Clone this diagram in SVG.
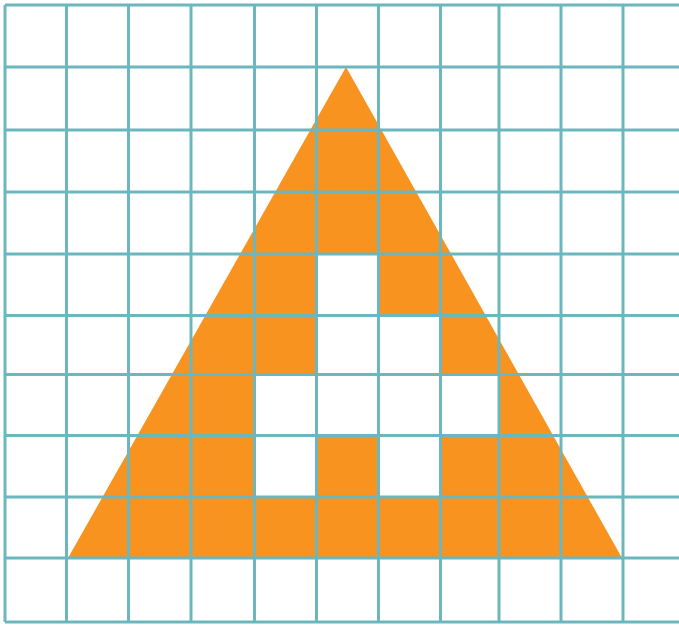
<svg xmlns="http://www.w3.org/2000/svg" width="679" height="626" viewBox="0 0 679 626">
<style>
.grid line{stroke:#6cb7bf;stroke-width:3}
.hole{fill:#ffffff}
</style>
<rect width="679" height="626" fill="#ffffff"/>
<g id="triangle">
<polygon points="346,67 68,558 622,558" fill="#f7931e"/>
</g>
<g id="holes" class="hole">
<rect x="316" y="254" width="62" height="62"/>
<rect x="316" y="315" width="124" height="60"/>
<rect x="254" y="374" width="245" height="62"/>
<rect x="254" y="435" width="62" height="62"/>
<rect x="378" y="435" width="62" height="62"/>
</g>
<g id="grid" class="grid">
<line x1="5" y1="5" x2="5" y2="622"/>
<line x1="66.5" y1="5" x2="66.5" y2="622"/>
<line x1="128.5" y1="5" x2="128.5" y2="622"/>
<line x1="191" y1="5" x2="191" y2="622"/>
<line x1="254.5" y1="5" x2="254.5" y2="622"/>
<line x1="316.5" y1="5" x2="316.5" y2="622"/>
<line x1="378.5" y1="5" x2="378.5" y2="622"/>
<line x1="440.5" y1="5" x2="440.5" y2="622"/>
<line x1="499" y1="5" x2="499" y2="622"/>
<line x1="561" y1="5" x2="561" y2="622"/>
<line x1="623" y1="5" x2="623" y2="622"/>
<line x1="5" y1="5" x2="679" y2="5"/>
<line x1="5" y1="67" x2="679" y2="67"/>
<line x1="5" y1="130" x2="679" y2="130"/>
<line x1="5" y1="192" x2="679" y2="192"/>
<line x1="5" y1="254" x2="679" y2="254"/>
<line x1="5" y1="315.5" x2="679" y2="315.5"/>
<line x1="5" y1="374.5" x2="679" y2="374.5"/>
<line x1="5" y1="435.5" x2="679" y2="435.5"/>
<line x1="5" y1="497" x2="679" y2="497"/>
<line x1="5" y1="558" x2="679" y2="558"/>
<line x1="5" y1="622" x2="679" y2="622"/>
</g>
</svg>
